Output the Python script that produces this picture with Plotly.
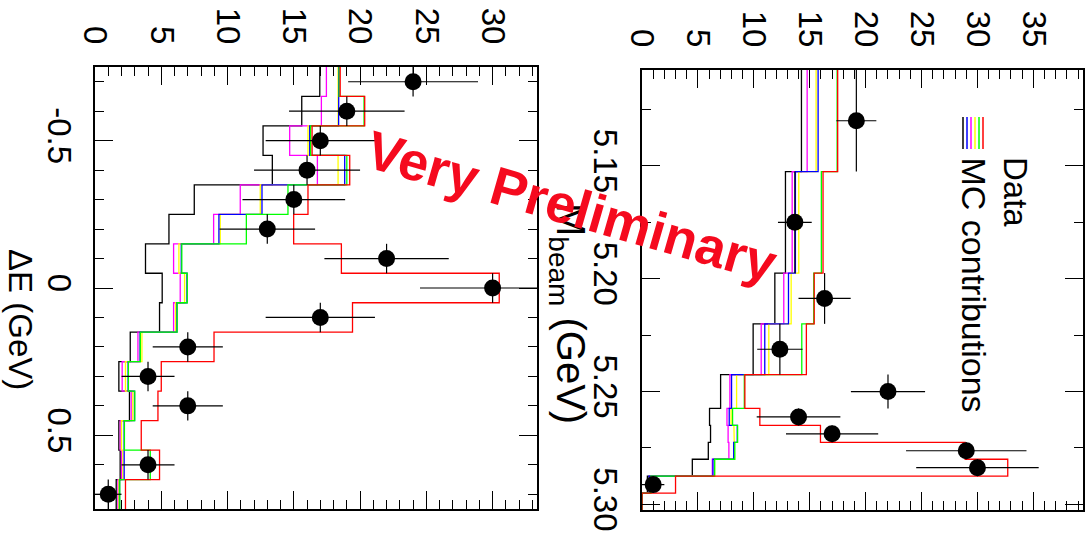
import math
import plotly.graph_objects as go

W, H = 1089, 548
FONT = "Liberation Sans, Arial, Helvetica, sans-serif"

# ---------------- Left panel: Delta E ----------------
de_edges = [-0.75, -0.65, -0.55, -0.45, -0.35, -0.25, -0.15, -0.05,
            0.05, 0.15, 0.25, 0.35, 0.45, 0.55, 0.65, 0.75]
de_centers = [-0.7, -0.6, -0.5, -0.4, -0.3, -0.2, -0.1, 0.0,
              0.1, 0.2, 0.3, 0.4, 0.5, 0.6, 0.7]
de_data = [24, 19, 17, 16, 15, 13, 22, 30, 17, 7, 4, 7, None, 4, 1]

de_black   = [16.96, 15.6, 12.68, 13.38, 7.49, 5.58, 3.81, 5.07, 4.87, 2.66, 1.8, 2.6, 1.8, 1.9, 1.6]
de_magenta = [17.46, 17.08, 14.69, 16.78, 10.96, 8.95, 5.93, 6.43, 5.93, 3.24, 2.05, 2.73, 1.9, 2.0, 1.73]
de_yellow  = [18.34, 18.34, 16.07, 18.34, 12.47, 9.45, 6.33, 6.76, 6.08, 3.54, 2.3, 2.85, 2.0, 2.1, 1.8]
de_blue    = [18.4, 18.38, 16.2, 18.84, 12.6, 9.35, 6.51, 6.94, 6.18, 3.4, 2.5, 2.98, 2.2, 2.2, 1.85]
de_green   = [18.42, 20.3, 16.27, 19.0, 14.56, 11.42, 6.55, 6.96, 6.2, 3.42, 2.52, 3.0, 2.22, 4.17, 1.87]
de_red     = [18.5, 20.35, 16.38, 19.22, 16.07, 14.99, 18.59, 30.5, 19.43, 8.98, 5.0, 4.75, 3.49, 4.87, 2.3]

# ---------------- Right panel: M_beam ----------------
mb_edges = [5.1075, 5.1525, 5.1975, 5.22, 5.2425, 5.2575, 5.265,
            5.2725, 5.28, 5.2875, 5.295, 5.3025]
mb_unit = 0.0075
mb_data = [19.17, 13.67, 16.33, 12.33, 22.0, 14.0, 17.0, 29.0, 30.0, 1.0]

mb_black   = [14.26, 12.83, 11.88, 9.94, 7.03, 6.04, 6.13, 5.93, 4.5, 0.48, 0]
mb_magenta = [14.77, 13.43, 12.68, 10.66, 7.86, 7.6, 7.7, 7.77, 6.29, 0.7, 0]
mb_yellow  = [15.57, 14.02, 13.34, 11.34, 8.46, 7.97, 8.22, 8.28, 6.49, 0.78, 0]
mb_blue    = [15.75, 13.72, 13.1, 10.98, 8.01, 7.8, 8.52, 8.2, 6.35, 0.63, 0]
mb_green   = [17.45, 16.04, 15.36, 14.29, 9.15, 8.1, 8.55, 8.3, 6.5, 0.8, 0]
mb_red     = [17.5, 16.19, 15.4, 14.7, 9.2, 10.54, 15.96, 28.9, 32.71, 3.0, 0]

colors = {"black": "#000000", "magenta": "#ff00ff", "yellow": "#ffff00",
          "blue": "#0000ff", "green": "#00ff00", "red": "#ff0000"}


def steps(vals, edges):
    xs, ys = [], []
    for v, lo, hi in zip(vals, edges[:-1], edges[1:]):
        xs += [v, v]
        ys += [lo, hi]
    return xs, ys


fig = go.Figure()

# MC histograms
for name, vals_de, vals_mb in [("black", de_black, mb_black),
                                ("magenta", de_magenta, mb_magenta),
                                ("yellow", de_yellow, mb_yellow),
                                ("blue", de_blue, mb_blue),
                                ("green", de_green, mb_green),
                                ("red", de_red, mb_red)]:
    xs, ys = steps(vals_de, de_edges)
    fig.add_trace(go.Scatter(x=xs, y=ys, mode="lines", xaxis="x", yaxis="y",
                             line=dict(color=colors[name], width=1.3),
                             showlegend=False, hoverinfo="skip"))
    xs, ys = steps(vals_mb, mb_edges)
    fig.add_trace(go.Scatter(x=xs, y=ys, mode="lines", xaxis="x2", yaxis="y2",
                             line=dict(color=colors[name], width=1.3),
                             showlegend=False, hoverinfo="skip"))

# Data points, left
de_err = [math.sqrt(v) if v is not None else None for v in de_data]
de_half = [(hi - lo) / 2 for lo, hi in zip(de_edges[:-1], de_edges[1:])]
fig.add_trace(go.Scatter(
    x=de_data, y=de_centers, mode="markers", xaxis="x", yaxis="y",
    marker=dict(size=17, color="black"),
    error_x=dict(type="data", array=de_err, color="black", thickness=1.2, width=0),
    error_y=dict(type="data", array=de_half, color="black", thickness=1.2, width=0),
    showlegend=False))

# Data points, right (per-unit normalised)
mb_lo = mb_edges[:-2]
mb_hi = mb_edges[1:-1]
mb_centers = [(a + b) / 2 for a, b in zip(mb_lo, mb_hi)]
mb_half = [(b - a) / 2 for a, b in zip(mb_lo, mb_hi)]
mb_err = [math.sqrt(v * ((b - a) / mb_unit)) / ((b - a) / mb_unit)
          for v, a, b in zip(mb_data, mb_lo, mb_hi)]
fig.add_trace(go.Scatter(
    x=mb_data, y=mb_centers, mode="markers", xaxis="x2", yaxis="y2",
    marker=dict(size=17, color="black"),
    error_x=dict(type="data", array=mb_err, color="black", thickness=1.2, width=0),
    error_y=dict(type="data", array=mb_half, color="black", thickness=1.2, width=0),
    showlegend=False))


def px_x(p):
    return p / W


def px_y(p):
    return (H - p) / H


common_axis = dict(showline=True, linewidth=2, linecolor="black", mirror="allticks",
                   ticks="inside", ticklen=18, tickwidth=1, tickcolor="black",
                   showgrid=False, zeroline=False, automargin=False,
                   tickfont=dict(family=FONT, size=33, color="black"),
                   tickangle=90)

fig.update_layout(
    template="none",
    width=W, height=H, margin=dict(l=0, r=0, t=0, b=0, pad=0),
    paper_bgcolor="white", plot_bgcolor="white",
    font=dict(family=FONT, color="black"),
    xaxis=dict(domain=[px_x(95), px_x(537)], range=[0, 33.35], anchor="y", side="top",
               tickmode="linear", tick0=0, dtick=5, ticklabelstandoff=9,
               minor=dict(dtick=1, tick0=0, ticklen=9, tickwidth=1, tickcolor="black", ticks="inside"),
               **common_axis),
    yaxis=dict(domain=[px_y(509), px_y(67)], range=[0.75, -0.75], anchor="x",
               tickmode="array", tickvals=[-0.5, 0, 0.5], ticktext=["-0.5", "0", "0.5"],
               ticklabelstandoff=5,
               minor=dict(dtick=0.1, tick0=0, ticklen=9, tickwidth=1, tickcolor="black", ticks="inside"),
               **common_axis),
    xaxis2=dict(domain=[px_x(642), px_x(1083)], range=[0, 39.44], anchor="y2", side="top",
                tickmode="linear", tick0=0, dtick=5, ticklabelstandoff=9,
                minor=dict(dtick=1, tick0=0, ticklen=9, tickwidth=1, tickcolor="black", ticks="inside"),
                **common_axis),
    yaxis2=dict(domain=[px_y(510), px_y(70)], range=[5.3025, 5.1075], anchor="x2",
                tickmode="array", tickvals=[5.15, 5.20, 5.25, 5.30],
                ticktext=["5.15", "5.20", "5.25", "5.30"], ticklabelstandoff=6,
                minor=dict(dtick=0.025, tick0=5.0, ticklen=9, tickwidth=1, tickcolor="black", ticks="inside"),
                **common_axis),
)

annotations = [
    dict(text="ΔE (GeV)", x=px_x(21), y=px_y(319), xref="paper", yref="paper",
         showarrow=False, textangle=90, font=dict(family=FONT, size=33, color="black"),
         xanchor="center", yanchor="middle"),
    dict(text="M<sub>beam</sub> (GeV)", x=px_x(568), y=px_y(313), xref="paper", yref="paper",
         showarrow=False, textangle=90, font=dict(family=FONT, size=40, color="black"),
         xanchor="center", yanchor="middle"),
    dict(text="Data", x=px_x(1016), y=px_y(155), xref="paper", yref="paper",
         showarrow=False, textangle=90, font=dict(family=FONT, size=33, color="black"),
         xanchor="center", yanchor="top"),
    dict(text="MC contributions", x=px_x(974), y=px_y(155), xref="paper", yref="paper",
         showarrow=False, textangle=90, font=dict(family=FONT, size=34, color="black"),
         xanchor="center", yanchor="top"),
    dict(text="<b>Very Preliminary</b>", x=px_x(571), y=px_y(206), xref="paper", yref="paper",
         showarrow=False, textangle=16, font=dict(family=FONT, size=54, color="#f50a1e"),
         xanchor="center", yanchor="middle"),
]
fig.update_layout(annotations=annotations)

legend_cols = ["black", "blue", "magenta", "yellow", "green", "red"]
shapes = []
for i, c in enumerate(legend_cols):
    xp = 963 + 4 * i
    shapes.append(dict(type="line", xref="paper", yref="paper",
                       x0=px_x(xp), x1=px_x(xp), y0=px_y(117), y1=px_y(149),
                       line=dict(color=colors[c], width=1.5)))
fig.update_layout(shapes=shapes)

fig.write_html("out.html")
